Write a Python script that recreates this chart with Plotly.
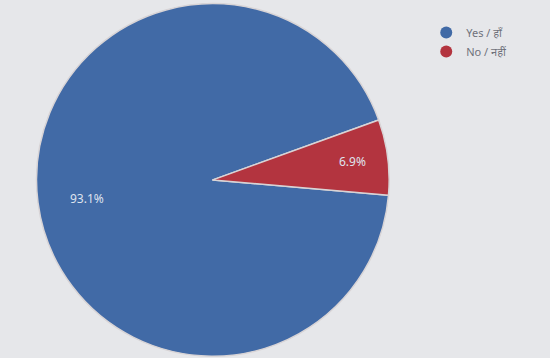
import math
import plotly.graph_objects as go

labels = ["Yes / हाँ", "No / नहीं"]
values = [93.1, 6.9]
colors = ["#416aa6", "#b3343f"]

# geometry / style
rotation = 95
dom_x = [0.062, 0.712]
dom_y = [0.005, 0.99]
W, H = 550, 358
label_r = [0.83, 0.80]

fig = go.Figure()
fig.add_trace(go.Pie(
    labels=labels,
    values=values,
    sort=False,
    direction="counterclockwise",
    rotation=rotation,
    marker=dict(colors=colors, line=dict(color="#d8d4d6", width=1.5)),
    textinfo="none",
    domain=dict(x=dom_x, y=dom_y),
    showlegend=False,
    hoverinfo="label+percent",
))

# legend entries with round markers
for lab, col in zip(labels, colors):
    fig.add_trace(go.Scatter(x=[None], y=[None], mode="markers", name=lab,
                             marker=dict(color=col, size=10, symbol="circle")))

# percentage labels placed along each slice's middle angle
total = sum(values)
thetas = [360 * v / total for v in values]
start = rotation + thetas[0]
cx_px = (dom_x[0] + dom_x[1]) / 2 * W
cy_px = (1 - (dom_y[0] + dom_y[1]) / 2) * H
r_px = min((dom_x[1] - dom_x[0]) * W, (dom_y[1] - dom_y[0]) * H) / 2
acc = 0
for v, th, fr in zip(values, thetas, label_r):
    mid = math.radians(start - acc - th / 2)
    acc += th
    px = cx_px + fr * r_px * math.sin(mid)
    py = cy_px - fr * r_px * math.cos(mid)
    fig.add_annotation(x=px / W, y=1 - py / H, xref="paper", yref="paper",
                       text=f"{v:.1f}%", showarrow=False,
                       font=dict(size=12, color="#dfe3ee", family="Noto Sans"))

fig.update_layout(
    width=W, height=H,
    margin=dict(l=0, r=0, t=0, b=0),
    paper_bgcolor="#e6e7ea",
    plot_bgcolor="#e6e7ea",
    xaxis=dict(visible=False),
    yaxis=dict(visible=False),
    showlegend=True,
    legend=dict(x=0.775, y=0.95, xanchor="left", yanchor="top",
                font=dict(size=11, color="#6f727b", family="Noto Sans"),
                bgcolor="rgba(0,0,0,0)", itemsizing="constant",
                tracegroupgap=0),
)

fig.write_html("out.html", config={"displayModeBar": False},
               post_script="document.body.style.margin='0';document.body.style.background='#e6e7ea';")
